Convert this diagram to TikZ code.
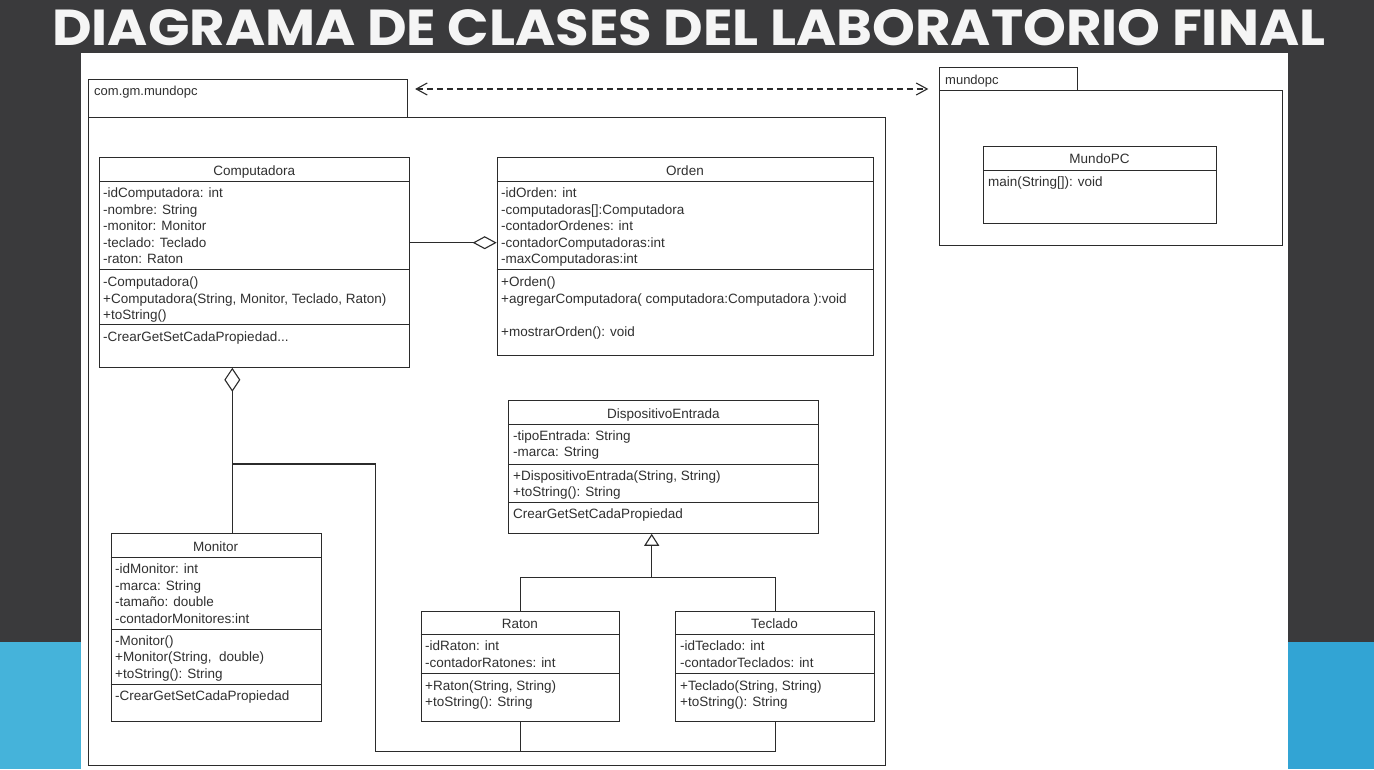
\documentclass[tikz,border=0pt]{standalone}
\usepackage{fontspec}
\setmainfont{Liberation Sans}
\newfontfamily\titlefont{Poppins}
\usetikzlibrary{arrows.meta}
\definecolor{bggray}{HTML}{3A3A3C}
\definecolor{bgblue}{HTML}{45B3DA}
\definecolor{bgblueR}{HTML}{32A4D4}
\definecolor{ink}{HTML}{2B2B2B}
\definecolor{txt}{HTML}{303030}
\tikzset{
  classbox/.style={draw=ink, line width=1.1pt, fill=white, rectangle, inner sep=0pt, anchor=north west},
  pkgbox/.style={draw=ink, line width=1.1pt, fill=white, rectangle, inner sep=0pt, anchor=north west},
  sep/.style={draw=ink, line width=1pt},
  member/.style={anchor=base west, inner sep=0pt, yshift=-4.8pt, font=\fontsize{13.5}{15}\selectfont, text=txt},
  ctitle/.style={anchor=base, inner sep=0pt, yshift=-4.8pt, font=\fontsize{13.5}{15}\selectfont, text=txt},
  pkglabel/.style={anchor=base west, inner sep=0pt, yshift=-4.6pt, font=\fontsize{13}{15}\selectfont, text=txt},
  conn/.style={draw=ink, line width=1.1pt},
}
\newcounter{tn}
\newcommand\mem[3]{\stepcounter{tn}\node[member] (txt\arabic{tn}) at (#1,#2) {#3};}
\newcommand\ubox[5]{\node[classbox, minimum width={#4-#2}, minimum height={#5-#3}] (#1) at (#2,#3) {};}
\newcommand\hsep[2]{\draw[sep] (#1.west |- 0,#2) -- (#1.east |- 0,#2);}
\begin{document}
\begin{tikzpicture}[x=1pt,y=-1pt]
\useasboundingbox (0,0) rectangle (1374,769);
% background
\fill[bggray] (0,0) rectangle (1374,769);
\fill[bgblue] (0,642) rectangle (81,769);
\fill[bgblueR] (1288,642) rectangle (1374,769);
\fill[white] (81,52.7) rectangle (1288,769);
% title
\node[anchor=base west, inner sep=0pt, text=white!96!black] (title) at (52,45)
  {\resizebox{1273pt}{36pt}{\titlefont\bfseries DIAGRAMA DE CLASES DEL LABORATORIO FINAL}};

% packages
\node[pkgbox, minimum width={407-88}, minimum height={117.3-79}] (pkgAtab) at (88,79) {};
\node[pkgbox, minimum width={884.5-88}, minimum height={765-117.3}] (pkgA) at (88,117.3) {};
\node[pkglabel] (pkgAlbl) at (94,90.7) {com.gm.mundopc};
\node[pkgbox, minimum width={1076.7-939.3}, minimum height={90-67.3}] (pkgBtab) at (939.3,67.3) {};
\node[pkgbox, minimum width={1282.3-939.3}, minimum height={245-90}] (pkgB) at (939.3,90) {};
\node[pkglabel] (pkgBlbl) at (945,80) {mundopc};

% MundoPC
\ubox{mundo}{983.3}{145.7}{1215.7}{222.7}
\hsep{mundo}{170}
\node[ctitle] (mundoT) at (1099.5,159) {MundoPC};
\mem{988}{181.7}{main(String[]): void}

% Computadora
\ubox{comp}{99.3}{156.7}{409.3}{366.7}
\hsep{comp}{181.3}\hsep{comp}{269}\hsep{comp}{324.5}
\node[ctitle] (compT) at (254.3,170.7) {Computadora};
\mem{103}{192.7}{-idComputadora: int}
\mem{103}{209.3}{-nombre: String}
\mem{103}{226}{-monitor: Monitor}
\mem{103}{242.5}{-teclado: Teclado}
\mem{103}{259}{-raton: Raton}
\mem{103}{281.7}{-Computadora()}
\mem{103}{298.3}{+Computadora(String, Monitor, Teclado, Raton)}
\mem{103}{314.7}{+toString()}
\mem{103}{337}{-CrearGetSetCadaPropiedad...}

% Orden
\ubox{orden}{496.7}{156.7}{873.3}{355}
\hsep{orden}{181.5}\hsep{orden}{269.3}
\node[ctitle] (ordenT) at (685,170.7) {Orden};
\mem{501}{192.7}{-idOrden: int}
\mem{501}{209.3}{-computadoras[]:Computadora}
\mem{501}{226}{-contadorOrdenes: int}
\mem{501}{242.5}{-contadorComputadoras:int}
\mem{501}{259}{-maxComputadoras:int}
\mem{501}{281.7}{+Orden()}
\mem{501}{298.3}{+agregarComputadora( computadora:Computadora ):void}
\mem{501}{331.5}{+mostrarOrden(): void}

% DispositivoEntrada
\ubox{disp}{508.3}{400}{818.3}{532.7}
\hsep{disp}{424.3}\hsep{disp}{464}\hsep{disp}{502.3}
\node[ctitle] (dispT) at (663.3,414) {DispositivoEntrada};
\mem{513}{435.7}{-tipoEntrada: String}
\mem{513}{451.9}{-marca: String}
\mem{513}{475.3}{+DispositivoEntrada(String, String)}
\mem{513}{491.5}{+toString(): String}
\mem{513}{513.5}{CrearGetSetCadaPropiedad}

% Monitor
\ubox{monitor}{110.7}{532.7}{320.7}{720.7}
\hsep{monitor}{557.3}\hsep{monitor}{629}\hsep{monitor}{684.5}
\node[ctitle] (monitorT) at (215.7,546.7) {Monitor};
\mem{115}{568.7}{-idMonitor: int}
\mem{115}{585.3}{-marca: String}
\mem{115}{601.9}{-tamaño: double}
\mem{115}{618.5}{-contadorMonitores:int}
\mem{115}{640.5}{-Monitor()}
\mem{115}{657}{+Monitor(String,~ double)}
\mem{115}{673.5}{+toString(): String}
\mem{115}{695.7}{-CrearGetSetCadaPropiedad}

% Raton
\ubox{raton}{420.7}{610.7}{619}{721}
\hsep{raton}{634.7}\hsep{raton}{673.3}
\node[ctitle] (ratonT) at (519.9,624) {Raton};
\mem{425}{646}{-idRaton: int}
\mem{425}{662.4}{-contadorRatones: int}
\mem{425}{685.3}{+Raton(String, String)}
\mem{425}{701.7}{+toString(): String}

% Teclado
\ubox{teclado}{675}{610.7}{874}{721}
\hsep{teclado}{634.7}\hsep{teclado}{673.3}
\node[ctitle] (tecladoT) at (774.5,624) {Teclado};
\mem{680}{646}{-idTeclado: int}
\mem{680}{662.4}{-contadorTeclados: int}
\mem{680}{685.3}{+Teclado(String, String)}
\mem{680}{701.7}{+toString(): String}

% helper coordinates
\coordinate (aggy) at (0,242.7);
\coordinate (aggx) at (232.3,0);
\coordinate (j1) at (232.3,464);
\coordinate (busL) at (375.7,751.5);
\coordinate (inhx) at (651.7,0);
\coordinate (ij) at (651.7,577.5);
\coordinate (depy) at (0,89);

% connectors
\draw[conn, -{Diamond[open, length=24pt, width=13pt, line width=1.1pt]}]
  (comp.east |- aggy) -- (orden.west |- aggy);
\draw[conn, {Diamond[open, length=24pt, width=16pt, line width=1.1pt]}-]
  (comp.south -| aggx) -- (monitor.north -| aggx);
\draw[conn] (j1) -| (busL) -| (raton.south);
\draw[conn] (busL) -| (teclado.south);
\draw[conn, -{Triangle[open, length=12pt, width=15pt, line width=1.1pt]}]
  (ij) -- (disp.south -| inhx);
\draw[conn] (raton.north) |- (ij) -| (teclado.north);
\draw[conn, dash pattern=on 6pt off 4pt,
  {Straight Barb[length=11pt, width=12pt, line width=1.1pt]}-{Straight Barb[length=11pt, width=12pt, line width=1.1pt]},
  shorten <=7pt, shorten >=11pt]
  (pkgAtab.east |- depy) -- (pkgBtab.west |- depy);
\end{tikzpicture}
\end{document}
